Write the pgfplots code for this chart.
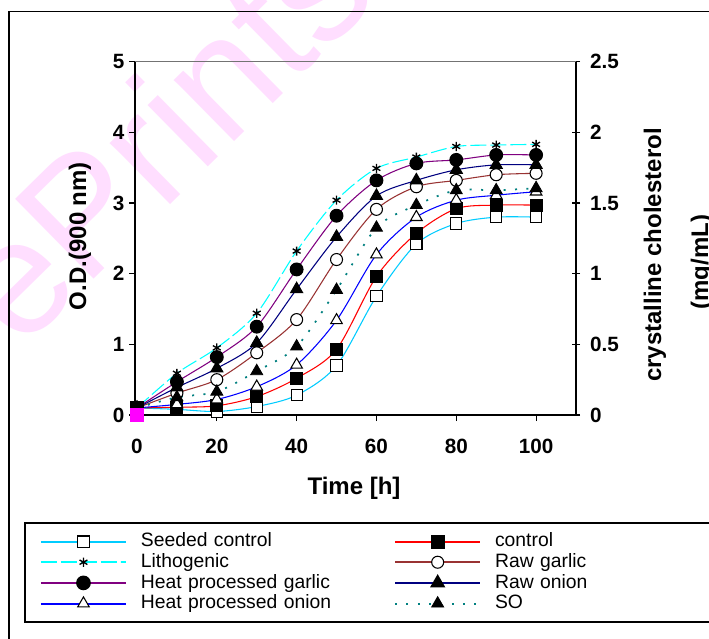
\documentclass[border=0pt]{standalone}
\usepackage{fontspec}
\setmainfont{Liberation Sans}
\usepackage{pgfplots}
\pgfplotsset{compat=1.18}
\definecolor{seed}{RGB}{0,204,255}
\definecolor{litho}{RGB}{0,255,255}
\definecolor{ctrl}{RGB}{255,0,0}
\definecolor{rgarlic}{RGB}{153,51,51}
\definecolor{hpg}{RGB}{128,0,128}
\definecolor{ronion}{RGB}{0,0,128}
\definecolor{hpo}{RGB}{0,0,255}
\definecolor{so}{RGB}{0,128,128}
\definecolor{wm}{RGB}{255,222,255}
\definecolor{mag}{RGB}{255,0,255}
\begin{document}
\begin{tikzpicture}
\useasboundingbox (0pt,0pt) rectangle (531.75pt,-478.5pt);
\begin{scope}[x=0.75pt,y=-0.75pt]
\fill[white] (0,0) rectangle (709,638);
\node[rotate=44.5, anchor=base west, text=wm, inner sep=0pt, font=\fontsize{122}{122}\selectfont] at (20,352) {ePrints@USM};
\draw[line width=1.2pt] (9,11.5) rectangle (760,700);
\draw[line width=0.9pt] (25,523) rectangle (760,622);
\node[rotate=90, font=\bfseries\fontsize{18}{20}\selectfont] at (80,236) {O.D.(900 nm)};
\node[rotate=90, font=\bfseries\fontsize{18}{20}\selectfont] at (655,255) {crystalline cholesterol};
\node[rotate=90, font=\bfseries\fontsize{18}{20}\selectfont] at (702,262) {(mg/mL)};
\node[font=\bfseries\fontsize{18}{20}\selectfont] at (354,488) {Time [h]};
\end{scope}
\begin{axis}[
  at={(135*0.75pt,-415*0.75pt)}, anchor=south west,
  scale only axis, width=330.75pt, height=265pt,
  xmin=-0.5, xmax=110, ymin=0, ymax=5,
  axis x line*=bottom, axis y line*=left,
  axis line style={line width=0.8pt},
  xtick={0,20,40,60,80,100}, ytick={0,1,2,3,4,5},
  tick align=outside, major tick length=4.5pt,
  tick style={line width=0.8pt, black},
  /pgf/number format/assume math mode=true,
  ticklabel style={font=\bfseries\fontsize{15.5}{18}\selectfont},
  xticklabel style={yshift=-10pt},
  clip=false,
  legend columns=2,
  legend cell align=left,
  legend image code/.code={\draw[mark repeat=2,mark phase=2,#1,line width=1.4pt] plot coordinates {(0pt,0pt) (31.9pt,0pt) (63.75pt,0pt)};},
  legend style={draw=none, fill=none, inner sep=0pt, outer sep=0pt,
    at={(-0.2154,-0.3312)}, anchor=north west,
    font=\fontsize{14.5}{16}\selectfont, row sep=1.2pt,
    nodes={inner sep=0pt, text height=11pt, text depth=3.3pt, text width=190pt},
    /tikz/every odd column/.append style={column sep=10.5pt}},
  every axis plot/.append style={line width=0.8pt, smooth, tension=0.5},
]
\addplot[seed, mark=square*, mark size=4.2pt, mark options={solid, draw=black, fill=white, line width=0.8pt}] coordinates {
(0,0.10) (10,0.08) (20,0.05) (30,0.12) (40,0.28) (50,0.70) (60,1.68) (70,2.42) (80,2.71) (90,2.80) (100,2.80)};
\addlegendentry{Seeded control}
\addplot[ctrl, mark=square*, mark size=4.5pt, mark options={solid, draw=black, fill=black}] coordinates {
(0,0.10) (10,0.11) (20,0.13) (30,0.26) (40,0.52) (50,0.93) (60,1.96) (70,2.57) (80,2.92) (90,2.97) (100,2.97)};
\addlegendentry{control}
\addplot[litho, dash pattern=on 12pt off 3pt, mark=asterisk, mark size=3.4pt, mark options={solid, draw=black, line width=1pt}] coordinates {
(0,0.10) (10,0.59) (20,0.95) (30,1.44) (40,2.32) (50,3.04) (60,3.49) (70,3.65) (80,3.80) (90,3.82) (100,3.83)};
\addlegendentry{Lithogenic}
\addplot[rgarlic, mark=*, mark size=4.5pt, mark options={solid, draw=black, fill=white, line width=0.8pt}] coordinates {
(0,0.10) (10,0.31) (20,0.50) (30,0.88) (40,1.35) (50,2.20) (60,2.91) (70,3.23) (80,3.32) (90,3.40) (100,3.42)};
\addlegendentry{Raw garlic}
\addplot[hpg, mark=*, mark size=4.8pt, mark options={solid, draw=black, fill=black}] coordinates {
(0,0.10) (10,0.47) (20,0.82) (30,1.25) (40,2.06) (50,2.82) (60,3.32) (70,3.56) (80,3.61) (90,3.68) (100,3.68)};
\addlegendentry{Heat processed garlic}
\addplot[ronion, mark=triangle*, mark size=5.2pt, mark options={solid, draw=black, fill=black}] coordinates {
(0,0.10) (10,0.39) (20,0.66) (30,1.02) (40,1.78) (50,2.52) (60,3.10) (70,3.32) (80,3.47) (90,3.54) (100,3.54)};
\addlegendentry{Raw onion}
\addplot[hpo, mark=triangle*, mark size=5pt, mark options={solid, draw=black, fill=white, line width=0.8pt}] coordinates {
(0,0.10) (10,0.15) (20,0.22) (30,0.40) (40,0.71) (50,1.34) (60,2.27) (70,2.80) (80,3.04) (90,3.11) (100,3.16)};
\addlegendentry{Heat processed onion}
\addplot[so, line width=1.3pt, dash pattern=on 1.5pt off 7pt, mark=triangle*, mark size=5.2pt, mark options={solid, draw=black, fill=black, line width=0.6pt}] coordinates {
(0,0.10) (10,0.25) (20,0.33) (30,0.62) (40,0.97) (50,1.77) (60,2.65) (70,2.97) (80,3.18) (90,3.18) (100,3.21)};
\addlegendentry{SO}
\addplot[forget plot, only marks, mark=square*, mark size=4.5pt, mark options={draw=mag, fill=mag}] coordinates {(0,0)};
\end{axis}
\begin{axis}[
  at={(135*0.75pt,-415*0.75pt)}, anchor=south west,
  scale only axis, width=330.75pt, height=265pt,
  xmin=-0.5, xmax=110, ymin=0, ymax=2.5,
  axis x line=none, axis y line*=right,
  axis line style={line width=0.8pt},
  ytick={0,0.5,1,1.5,2,2.5},
  tick align=center, major tick length=6pt,
  tick style={line width=0.8pt, black},
  /pgf/number format/assume math mode=true,
  ticklabel style={font=\bfseries\fontsize{15.5}{18}\selectfont},
  yticklabel style={anchor=west, xshift=4pt},
]
\end{axis}
\begin{scope}[x=0.75pt,y=-0.75pt]
\draw[black!55, line width=0.9pt] (135,61.7) -- (576,61.7);
\end{scope}
\end{tikzpicture}
\end{document}
